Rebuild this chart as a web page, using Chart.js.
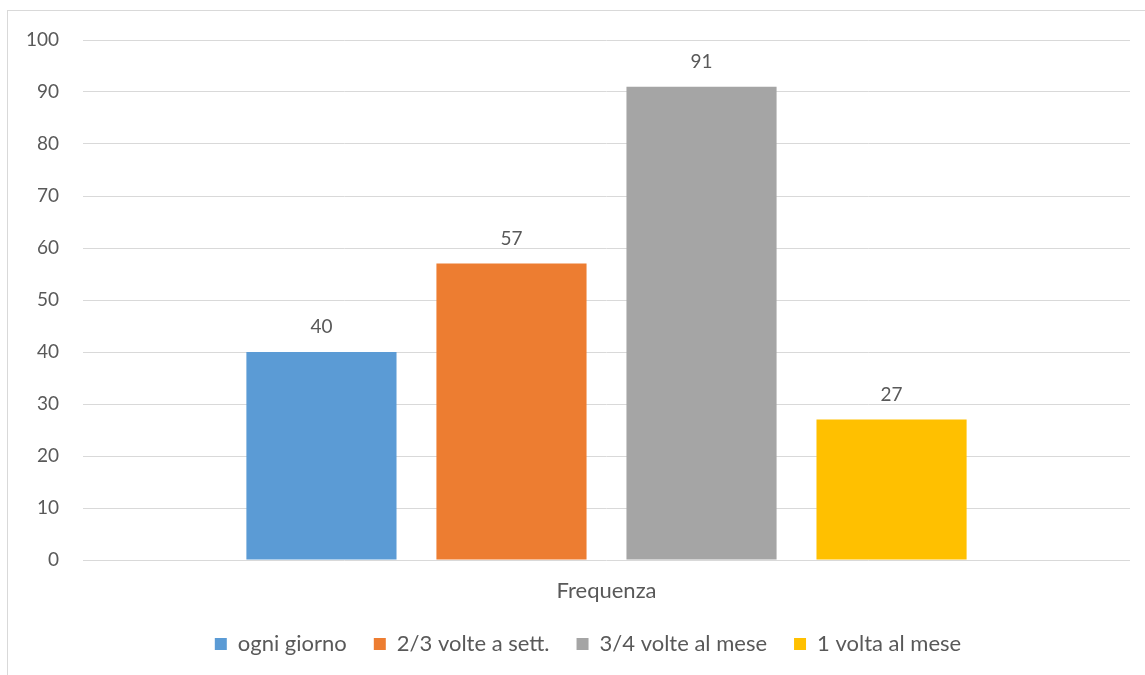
<!DOCTYPE html>
<html>
<head>
<meta charset="utf-8">
<script src="https://cdn.jsdelivr.net/npm/chart.js@4/dist/chart.umd.min.js"></script>
<style>
    html, body { margin: 0; padding: 0; background: #fff; overflow: hidden; }
    #frame {
        position: absolute; left: 7px; top: 10px;
        width: 1150px; height: 700px;
        border-left: 1px solid #d9d9d9; border-top: 1px solid #d9d9d9;
        background: #fff;
    }
    #chart { display: block; }
</style>
</head>
<body>
<div id="frame"><canvas id="chart" width="1150" height="700"></canvas></div>
<script>
(function () {

    'use strict';

    var categories = ['Frequenza'];
    var seriesNames = ['ogni giorno', '2/3 volte a sett.', '3/4 volte al mese', '1 volta al mese'];
    var seriesValues = [[40], [57], [91], [27]];
    var seriesColors = ['#5b9bd5', '#ed7d31', '#a5a5a5', '#ffc000'];
    var yTicks = [0, 10, 20, 30, 40, 50, 60, 70, 80, 90, 100];

    var textColor = '#595959';
    var gridColor = '#d9d9d9';
    var fontFamily = 'Lato, "Open Sans", sans-serif';

    var datasets = seriesNames.map(function (name, i) {
        return {
            label: name,
            data: seriesValues[i],
            backgroundColor: seriesColors[i],
            borderWidth: 0,
            categoryPercentage: 0.726,
            barPercentage: 0.79
        };
    });

    //values above each bar
    var valueLabels = {
        id: 'valueLabels',
        afterDatasetsDraw: function (chart) {
            var ctx = chart.ctx;
            ctx.save();
            ctx.font = '19px ' + fontFamily;
            ctx.fillStyle = textColor;
            ctx.textAlign = 'center';
            ctx.textBaseline = 'middle';
            chart.data.datasets.forEach(function (ds, i) {
                chart.getDatasetMeta(i).data.forEach(function (bar, j) {
                    ctx.fillText(String(ds.data[j]), bar.x, bar.y - 25);
                });
            });
            ctx.restore();
        }
    };

    //excel centres the legend on the whole chart box, which runs past the window
    var legendShift = {
        id: 'legendShift',
        afterLayout: function (chart) {
            if (chart.legend) {
                chart.legend.left += 19;
                chart.legend.right += 19;
            }
        }
    };

    new Chart(document.getElementById('chart'), {
        type: 'bar',
        data: { labels: categories, datasets: datasets },
        plugins: [valueLabels, legendShift],
        options: {
            responsive: false,
            animation: false,
            events: [],
            layout: { padding: { top: 29, right: 28, left: 0, bottom: 46 } },
            scales: {
                x: {
                    grid: { display: false, drawTicks: false },
                    border: { display: false },
                    ticks: { color: textColor, font: { size: 22, family: fontFamily }, padding: 18 },
                    afterFit: function (scale) { scale.height = 46; }
                },
                y: {
                    min: yTicks[0],
                    max: yTicks[yTicks.length - 1],
                    afterBuildTicks: function (scale) {
                        scale.ticks = yTicks.map(function (v) { return { value: v }; });
                    },
                    grid: { color: gridColor, lineWidth: 1, drawTicks: false },
                    border: { display: false },
                    ticks: { color: textColor, font: { size: 19, family: fontFamily }, padding: 24 },
                    afterFit: function (scale) {
                        scale.width = 75;
                        scale.paddingTop = 0;
                        scale.paddingBottom = 0;
                    }
                }
            },
            plugins: {
                tooltip: { enabled: false },
                legend: {
                    position: 'bottom',
                    labels: {
                        boxWidth: 12,
                        boxHeight: 12,
                        padding: 27,
                        color: textColor,
                        font: { size: 22, family: fontFamily }
                    }
                }
            }
        }
    });
}());
</script>
</body>
</html>
